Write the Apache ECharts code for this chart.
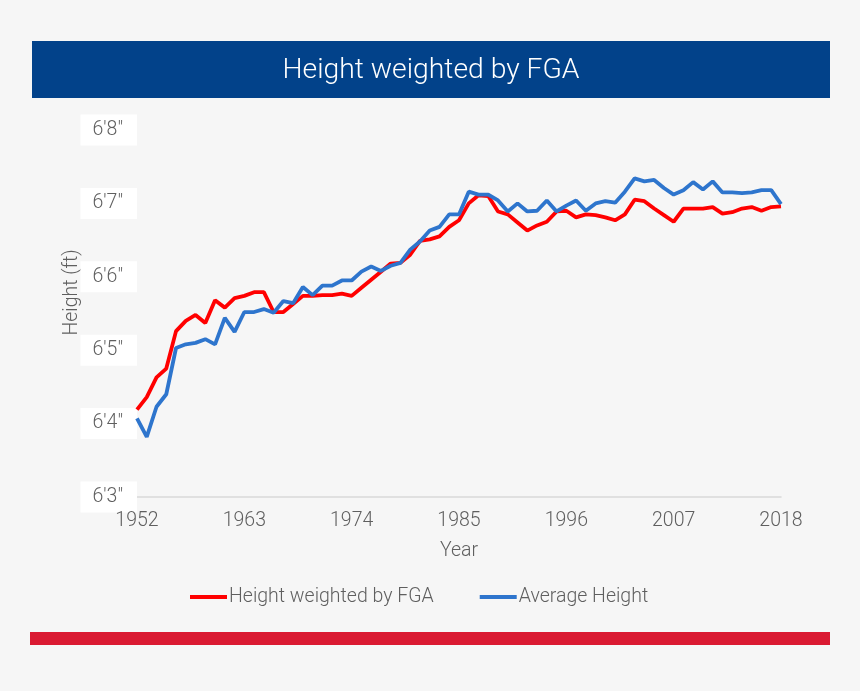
<!DOCTYPE html>
<html>
<head>
<meta charset="utf-8">
<script src="https://cdn.jsdelivr.net/npm/echarts@6/dist/echarts.min.js"></script>
<style>
html,body{margin:0;padding:0;background:#f6f6f6;}
#c{width:860px;height:691px;}
</style>
</head>
<body>
<div id="c"></div>
<script>
// Heights in inches (75 = 6'3")
var years = [];
for (var y = 1952; y <= 2018; y++) years.push(String(y));

var weightedByFGA = [
  76.19, 76.36, 76.63, 76.75, 77.26, 77.40, 77.48, 77.37, 77.68, 77.58,
  77.71, 77.74, 77.79, 77.79, 77.52, 77.52, 77.63, 77.74, 77.74, 77.75,
  77.75, 77.77, 77.74, 77.85, 77.96, 78.07, 78.18, 78.19, 78.30, 78.49,
  78.51, 78.55, 78.68, 78.77, 79.00, 79.11, 79.10, 78.89, 78.85, 78.74,
  78.63, 78.70, 78.75, 78.89, 78.90, 78.81, 78.85, 78.84, 78.81, 78.77,
  78.85, 79.05, 79.03, 78.93, 78.84, 78.75, 78.93, 78.93, 78.93, 78.95,
  78.86, 78.88, 78.93, 78.95, 78.90, 78.95, 78.96
];

var averageHeight = [
  76.07, 75.82, 76.23, 76.40, 77.03, 77.08, 77.10, 77.15, 77.08, 77.44,
  77.25, 77.52, 77.52, 77.56, 77.51, 77.67, 77.64, 77.86, 77.75, 77.88,
  77.88, 77.95, 77.95, 78.07, 78.14, 78.08, 78.15, 78.19, 78.37, 78.48,
  78.63, 78.68, 78.85, 78.85, 79.16, 79.12, 79.12, 79.04, 78.89, 79.00,
  78.89, 78.90, 79.04, 78.89, 78.97, 79.04, 78.90, 79.00, 79.03, 79.01,
  79.16, 79.34, 79.30, 79.32, 79.21, 79.12, 79.18, 79.29, 79.19, 79.30,
  79.15, 79.15, 79.14, 79.15, 79.18, 79.18, 78.99
];

var yTicks = [75, 76, 77, 78, 79, 80];
function fmtHeight(v) { return "6'" + (v - 72) + '"'; }

var chart = echarts.init(document.getElementById('c'));
var font = 'Roboto, "Open Sans", sans-serif';
var txt = '#5f5f5f';
chart.setOption({
  backgroundColor: '#f6f6f6',
  animation: false,
  textStyle: { fontFamily: font, fontWeight: 300 },
  graphic: [
    { type: 'rect', shape: { x: 32, y: 41, width: 798, height: 57 }, style: { fill: '#02428a' }, z: 0 },
    { type: 'text', x: 431, y: 71, style: { text: 'Height weighted by FGA', fill: '#ffffff', font: '300 28.3px ' + font, align: 'center', verticalAlign: 'middle' } },
    { type: 'rect', shape: { x: 30, y: 632, width: 800, height: 13 }, style: { fill: '#da1a32' } }
  ],
  legend: {
    top: 582,
    left: 185,
    icon: 'rect',
    itemWidth: 37,
    itemHeight: 4,
    itemGap: 46,
    textStyle: { fontSize: 19.5, fontWeight: 300, color: txt, padding: [0, 0, 0, -3], fontFamily: font },
    data: ['Height weighted by FGA', 'Average Height']
  },
  grid: { left: 137, right: 79, top: 130, bottom: 194 },
  xAxis: {
    type: 'category',
    data: years,
    boundaryGap: false,
    name: 'Year',
    nameLocation: 'middle',
    nameGap: 44,
    nameTextStyle: { fontSize: 19.5, fontWeight: 300, color: txt },
    axisLine: { lineStyle: { color: '#d9d9d9', width: 1.5 } },
    axisTick: { show: false },
    axisLabel: { interval: 10, fontSize: 19.5, fontWeight: 300, color: txt, margin: 14 },
    splitLine: { show: false }
  },
  yAxis: {
    type: 'value',
    min: yTicks[0],
    max: yTicks[yTicks.length - 1],
    interval: 1,
    name: 'Height (ft)',
    nameLocation: 'middle',
    nameGap: 55,
    nameMoveOverlap: false,
    nameRotate: 90,
    nameTextStyle: { fontSize: 19.5, fontWeight: 300, color: txt, padding: [0, 0, 0, 42] },
    axisLine: { show: false },
    axisTick: { show: false },
    splitLine: { show: false },
    axisLabel: {
      formatter: fmtHeight,
      fontSize: 19.5,
      fontWeight: 300,
      color: txt,
      backgroundColor: '#ffffff',
      padding: [11, 14, 0, 12],
      margin: 0
    }
  },
  series: [
    {
      name: 'Height weighted by FGA', type: 'line', data: weightedByFGA,
      showSymbol: false, symbol: 'none',
      lineStyle: { color: '#ff0000', width: 3.8 }, itemStyle: { color: '#ff0000' }
    },
    {
      name: 'Average Height', type: 'line', data: averageHeight,
      showSymbol: false, symbol: 'none',
      lineStyle: { color: '#2e75cd', width: 3.8 }, itemStyle: { color: '#2e75cd' }
    }
  ]
});
</script>
</body>
</html>
